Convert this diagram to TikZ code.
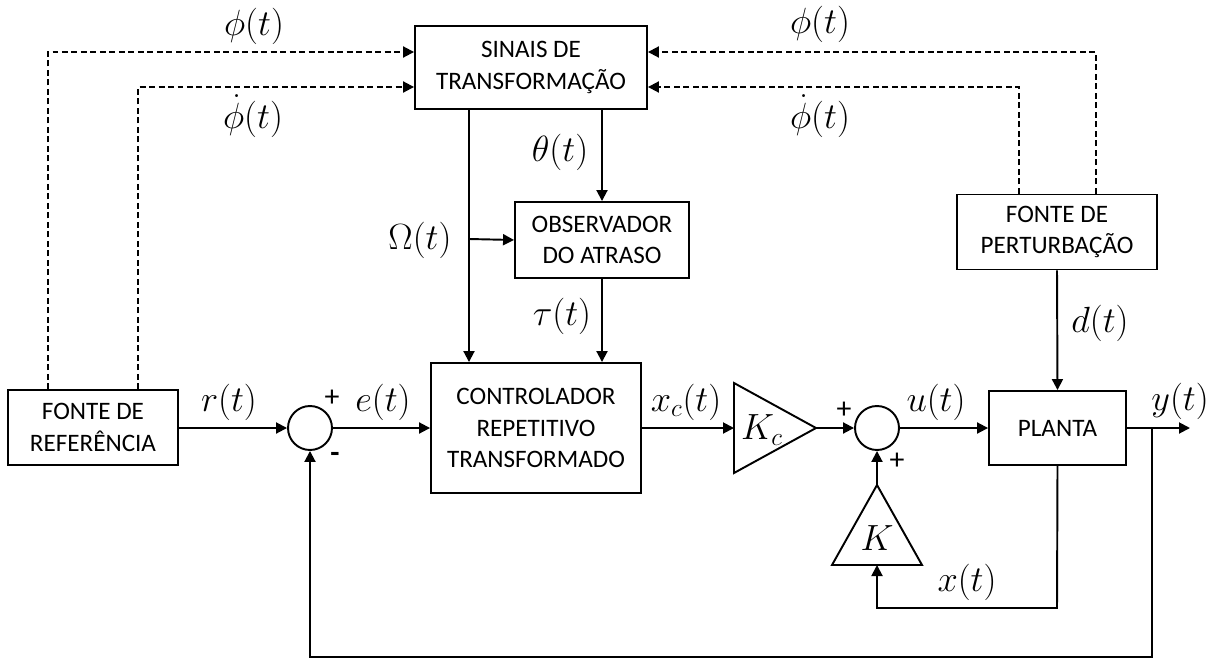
\documentclass[tikz,border=0pt]{standalone}
\usepackage[no-math]{fontspec}
\setmainfont{Carlito}
\usetikzlibrary{arrows.meta,calc}

\begin{document}
\begin{tikzpicture}[x=0.02cm,y=-0.02cm,line width=1.1pt,
  >={Triangle[length=2.2mm,width=2.2mm]},
  bloco/.style={draw,align=center,inner sep=0pt,font=\fontsize{14.3}{17.8}\selectfont},
  soma/.style={draw,circle,minimum size=0.88cm,inner sep=0pt},
  rot/.style={font=\fontsize{21}{24}\selectfont},
  sinal/.style={font=\fontsize{17}{18}\selectfont},
  tracejado/.style={dash pattern=on 3.4pt off 2pt}]
  \useasboundingbox (0,0) rectangle (1227,659);

  % blocos
  \node[bloco,minimum width=4.64cm,minimum height=1.66cm] (sinais) at (531,67.5) {SINAIS DE\\TRANSFORMAÇÃO};
  \node[bloco,minimum width=3.48cm,minimum height=1.52cm] (obs) at (602,240) {OBSERVADOR\\DO ATRASO};
  \node[bloco,minimum width=4.2cm,minimum height=2.6cm] (ctrl) at (536,428) {CONTROLADOR\\REPETITIVO\\TRANSFORMADO};
  \node[bloco,minimum width=3.4cm,minimum height=1.5cm] (fref) at (93,427.5) {FONTE DE\\REFERÊNCIA};
  \node[bloco,minimum width=4.0cm,minimum height=1.5cm] (pert) at (1057,232) {FONTE DE\\PERTURBAÇÃO};
  \node[bloco,minimum width=2.74cm,minimum height=1.48cm] (planta) at (1057.5,428) {PLANTA};
  \node[soma] (soma1) at (310,428) {};
  \node[soma] (soma2) at (877,428) {};

  % ganhos
  \coordinate (kc1) at (734,383);
  \coordinate (kc2) at (734,473);
  \coordinate (kc3) at (816,428);
  \coordinate (kcin) at (734,428);
  \draw (kc1) -- (kc3) -- (kc2) -- cycle;
  \node[rot] (kc) at (762,430) {$K_c$};
  \coordinate (k1) at (877,485);
  \coordinate (k2) at (832,565);
  \coordinate (k3) at (922,565);
  \coordinate (kbase) at (877,565);
  \draw (k1) -- (k3) -- (k2) -- cycle;
  \node[rot] (k) at (877,538) {$K$};

  % pontos auxiliares
  \coordinate (dl1) at (48,52);
  \coordinate (dl2) at (138,87);
  \coordinate (dr1) at (1096,52);
  \coordinate (dr2) at (1019,87);
  \coordinate (omx) at (469,239);
  \coordinate (ramo) at (1152,428);
  \coordinate (saida) at (1190,428);
  \coordinate (fundo) at (1152,657);
  \coordinate (xcanto) at (1057,608);

  % sinais tracejados
  \draw[tracejado,->] (fref.north -| dl1) -- (dl1) -- (sinais.west |- dl1);
  \draw[tracejado,->] (fref.north -| dl2) -- (dl2) -- (sinais.west |- dl2);
  \draw[tracejado,->] (pert.north -| dr1) -- (dr1) -- (sinais.east |- dr1);
  \draw[tracejado,->] (pert.north -| dr2) -- (dr2) -- (sinais.east |- dr2);

  % ligacoes
  \draw[->] (obs.north |- sinais.south) -- (obs.north);
  \draw[->] (sinais.south -| omx) -- (ctrl.north -| omx);
  \draw[->] (omx) -- (obs.west);
  \draw[->] (obs.south) -- (ctrl.north -| obs.south);
  \draw[->] (fref.east |- soma1.west) -- (soma1.west);
  \draw[->] (soma1.east) -- (ctrl.west);
  \draw[->] (ctrl.east) -- (kcin);
  \draw[->] (kc3) -- (soma2.west);
  \draw[->] (soma2.east) -- (planta.west);
  \draw[->] (planta.east) -- (saida);
  \draw[->] (pert.south) -- (planta.north);
  \draw[->] (k1) -- (soma2.south);
  \draw[->] (planta.south) -- (xcanto) -| (kbase);
  \draw[->] (ramo) -- (fundo) -| (soma1.south);

  % rotulos
  \node[rot] at (254,26) {$\phi(t)$};
  \node[rot] at (253,116) {$\dot{\phi}(t)$};
  \node[rot] at (820,24) {$\phi(t)$};
  \node[rot] at (820,116) {$\dot{\phi}(t)$};
  \node[rot] at (560,152) {$\theta(t)$};
  \node[rot] at (420,240) {$\Omega(t)$};
  \node[rot] at (562,316) {$\tau(t)$};
  \node[rot] at (1100,323) {$d(t)$};
  \node[rot] at (229,402) {$r(t)$};
  \node[rot] at (383,402) {$e(t)$};
  \node[rot] at (686,402) {$x_c(t)$};
  \node[rot] at (936,402) {$u(t)$};
  \node[rot] at (1180,401) {$y(t)$};
  \node[rot] at (967,582) {$x(t)$};
  \node[sinal] at (332,398) {+};
  \node[sinal] at (335,457) {\textbf{-}};
  \node[sinal] at (844,410) {+};
  \node[sinal] at (897,461) {+};
\end{tikzpicture}
\end{document}
